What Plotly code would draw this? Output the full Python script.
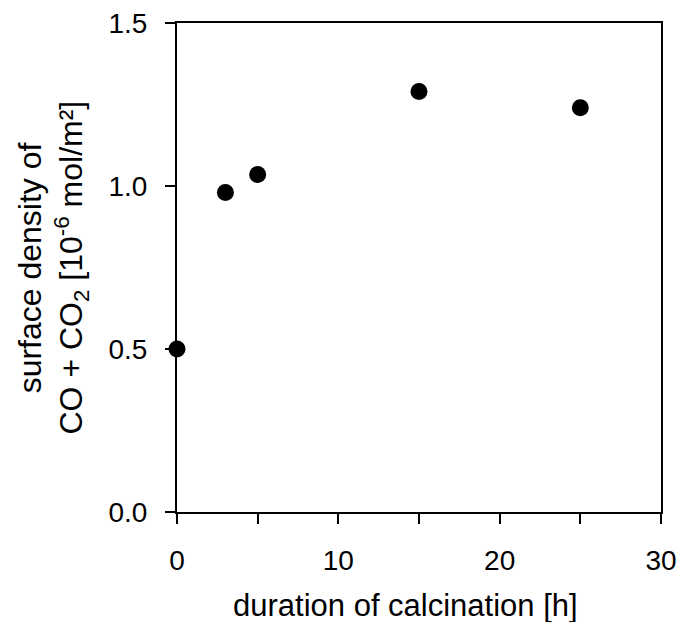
import plotly.graph_objects as go

hours = [0, 3, 5, 15, 25]
density = [0.50, 0.98, 1.035, 1.29, 1.24]

x_tickvals = [0, 5, 10, 15, 20, 25, 30]
x_ticktext = ["0", "", "10", "", "20", "", "30"]
y_tickvals = [0.0, 0.5, 1.0, 1.5]
y_ticktext = ["0.0", "0.5", "1.0", "1.5"]

y_title_lines = ["surface density of", "CO + CO<sub>2</sub> [10<sup>-6</sup> mol/m²]"]
x_title = "duration of calcination [h]"

font = "Liberation Sans, Arial, sans-serif"

fig = go.Figure()
fig.add_trace(go.Scatter(
    x=hours, y=density, mode="markers",
    marker=dict(size=17, color="black"),
    cliponaxis=False, showlegend=False,
))

fig.update_layout(
    width=679, height=622,
    margin=dict(l=177, r=18, t=23, b=110),
    paper_bgcolor="white", plot_bgcolor="white",
    font=dict(family=font, color="black"),
)
fig.update_xaxes(
    range=[0, 30], tickvals=x_tickvals, ticktext=x_ticktext,
    ticks="outside", ticklen=10, tickwidth=2, tickcolor="black",
    showline=True, linecolor="black", linewidth=2, mirror=True,
    showgrid=False, zeroline=False, automargin=False,
    tickfont=dict(size=28), ticklabelstandoff=12,
)
fig.update_yaxes(
    range=[0, 1.5], tickvals=y_tickvals, ticktext=y_ticktext,
    ticks="outside", ticklen=10, tickwidth=2, tickcolor="black",
    showline=True, linecolor="black", linewidth=2, mirror=True,
    showgrid=False, zeroline=False, automargin=False,
    tickfont=dict(size=28), ticklabelstandoff=12,
)

# x-axis title (slightly left of centre, as in the reference)
fig.add_annotation(
    text=x_title, xref="paper", yref="paper", x=0.473, y=-0.191,
    xanchor="center", yanchor="middle", showarrow=False,
    font=dict(size=31),
)

for txt, xpos in zip(y_title_lines, [-0.304, -0.219]):
    fig.add_annotation(
        text=txt, xref="paper", yref="paper", x=xpos, y=0.5,
        xanchor="center", yanchor="middle", textangle=-90,
        showarrow=False, font=dict(size=32),
    )

fig.write_html("out.html")
